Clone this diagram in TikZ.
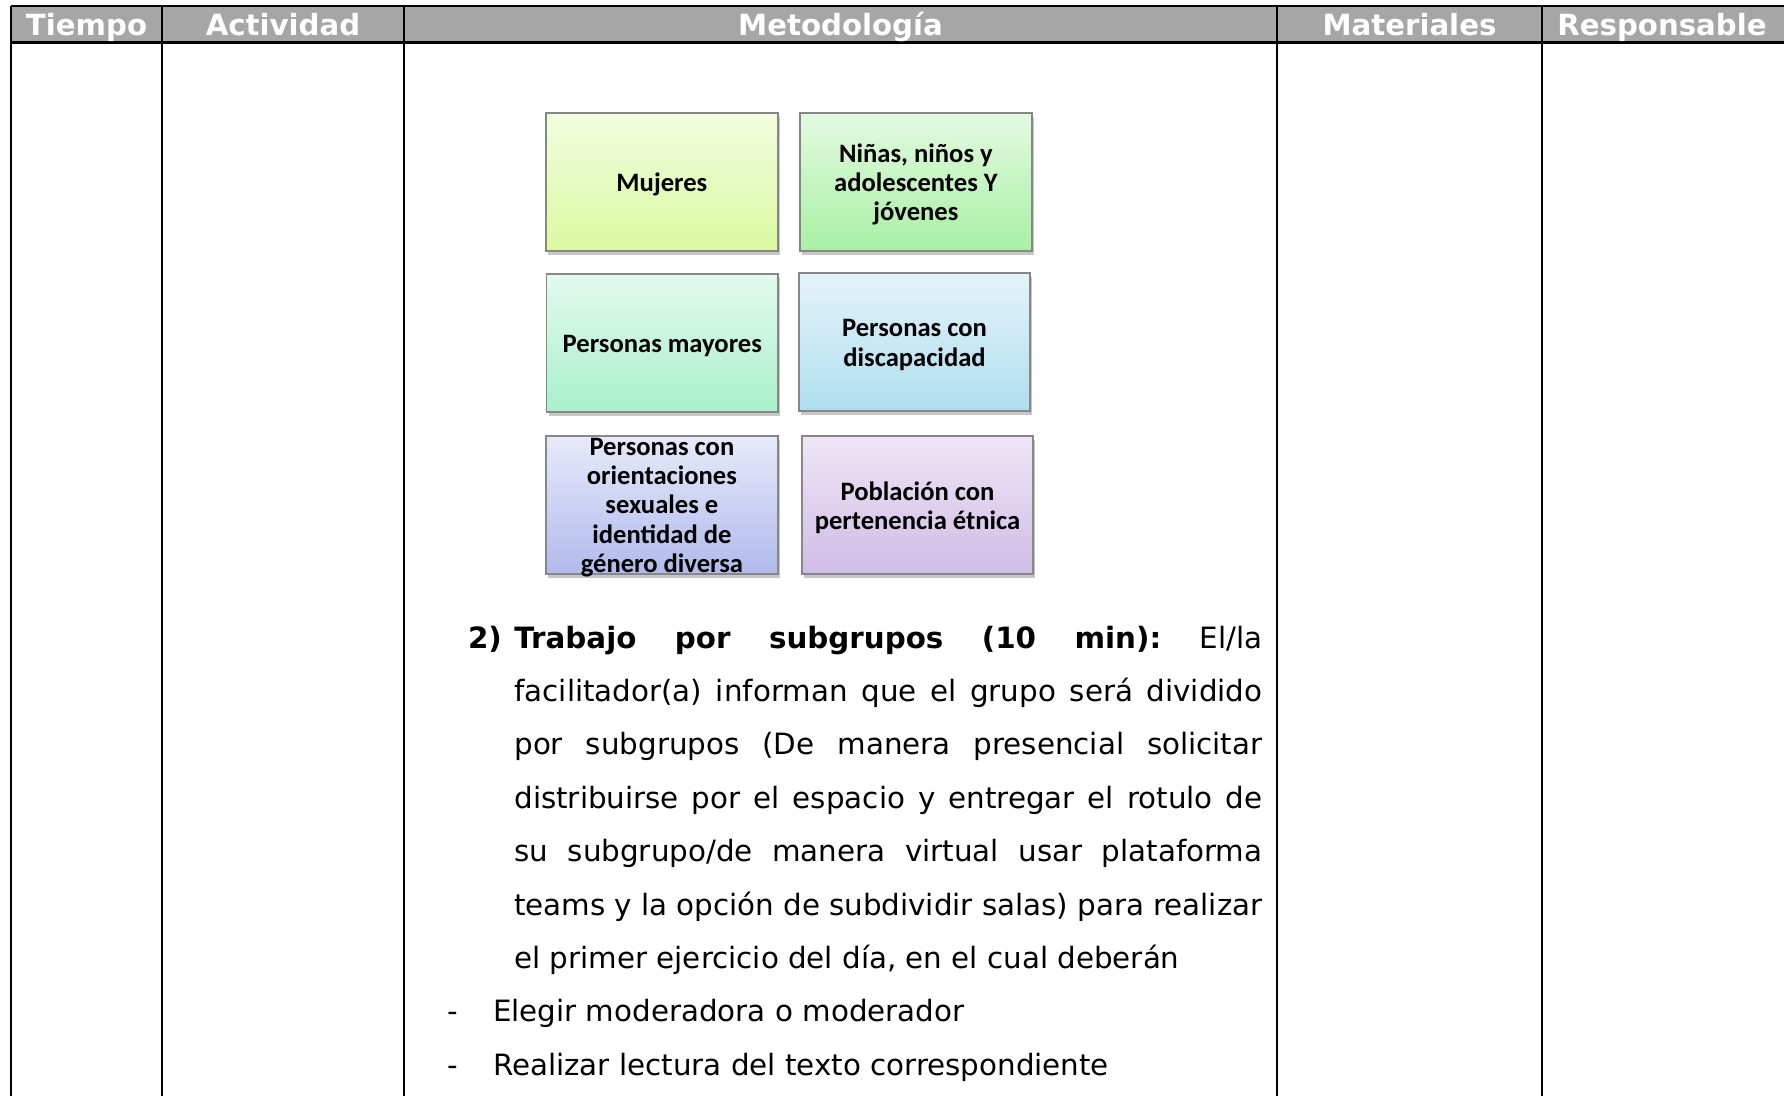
\documentclass[tikz,border=0pt]{standalone}
\usepackage{fontspec}
\setmainfont{DejaVu Sans}
\newfontfamily\boxfont{Carlito}
\usetikzlibrary{shadows}
\definecolor{hdrgray}{RGB}{166,166,166}
\definecolor{boxborder}{RGB}{135,135,135}
\definecolor{c1t}{RGB}{242,253,224}\definecolor{c1b}{RGB}{218,250,160}
\definecolor{c2t}{RGB}{228,250,226}\definecolor{c2b}{RGB}{168,240,163}
\definecolor{c3t}{RGB}{228,250,238}\definecolor{c3b}{RGB}{168,240,204}
\definecolor{c4t}{RGB}{228,243,250}\definecolor{c4b}{RGB}{174,222,238}
\definecolor{c5t}{RGB}{232,234,250}\definecolor{c5b}{RGB}{176,186,236}
\definecolor{c6t}{RGB}{238,230,246}\definecolor{c6b}{RGB}{208,188,230}
\tikzset{
  rule/.style={line width=1.1pt, black},
  hdrtext/.style={anchor=base, inner sep=0pt, text=white, font=\fontsize{14.6}{17}\selectfont\bfseries},
  grp/.style={draw=boxborder, line width=0.9pt, minimum width=115.75pt, minimum height=69pt,
    inner sep=0pt,
    drop shadow={shadow xshift=1pt, shadow yshift=-2pt, opacity=0.22, fill=black}},
  grptext/.style={inner sep=0pt, align=center, text=black, yshift=-1.3pt,
    font=\boxfont\bfseries\fontsize{13.3}{14.65}\selectfont},
  body/.style={anchor=base west, inner sep=0pt, font=\fontsize{14.67}{17}\selectfont}
}
\begin{document}
\begin{tikzpicture}[x=0.5pt,y=-0.5pt]
\useasboundingbox (0,0) rectangle (1784,1096);
\clip (0,0) rectangle (1784,1096);
\fill[white] (0,0) rectangle (1784,1096);
% header
\fill[hdrgray] (11,6) rectangle (1800,42.5);
\draw[rule] (11,6) -- (1800,6);
\draw[rule] (11,42.5) -- (1800,42.5);
\foreach \xx in {11,162,404,1277,1542}{
  \draw[rule] (\xx,6) -- (\xx,1100);
}
\node[hdrtext] (h1) at (86.5,35.5) {Tiempo};
\node[hdrtext] (h2) at (283,35.5) {Actividad};
\node[hdrtext] (h3) at (840.5,35.5) {Metodología};
\node[hdrtext] (h4) at (1409.5,35.5) {Materiales};
\node[hdrtext] (h5) at (1662,35.5) {Responsable};
% boxes
\node[grp, top color=c1t, bottom color=c1b] (b1) at (661.9,182) {};
\node[grp, top color=c2t, bottom color=c2b] (b2) at (915.9,182) {};
\node[grp, top color=c3t, bottom color=c3b] (b3) at (662.3,343.3) {};
\node[grp, top color=c4t, bottom color=c4b] (b4) at (914.5,342.3) {};
\node[grp, top color=c5t, bottom color=c5b] (b5) at (661.9,505) {};
\node[grp, top color=c6t, bottom color=c6b] (b6) at (917.5,505) {};
\node[grptext] (t1) at (b1.center) {Mujeres};
\node[grptext] (t2) at (b2.center) {Niñas, niños y\\adolescentes Y\\jóvenes};
\node[grptext] (t3) at (b3.center) {Personas mayores};
\node[grptext] (t4) at (b4.center) {Personas con\\discapacidad};
\node[grptext] (t5) at (b5.center) {Personas con\\orientaciones\\sexuales e\\identidad de\\género diversa};
\node[grptext] (t6) at (b6.center) {Población con\\pertenencia étnica};
% paragraph
\node[body] (n2) at (467.6,648) {\bfseries 2)};
\node[body] (p1) at (514,648) {\hbox to 374pt{\bfseries Trabajo\hfill por\hfill subgrupos\hfill (10\hfill min):\hfill\mdseries El/la}};
\node[body] (p2) at (514,701.4) {\hbox to 374pt{facilitador(a) informan que el grupo será dividido}};
\node[body] (p3) at (514,754.8) {\hbox to 374pt{por subgrupos (De manera presencial solicitar}};
\node[body] (p4) at (514,808.2) {\hbox to 374pt{distribuirse por el espacio y entregar el rotulo de}};
\node[body] (p5) at (514,861.6) {\hbox to 374pt{su subgrupo/de manera virtual usar plataforma}};
\node[body] (p6) at (514,915) {\hbox to 374pt{teams y la opción de subdividir salas) para realizar}};
\node[body] (p7) at (514,968.4) {el primer ejercicio del día, en el cual deberán};
\node[body] (d1) at (447,1021.8) {-};
\node[body] (i1) at (492.7,1021.8) {Elegir moderadora o moderador};
\node[body] (d2) at (447,1075.2) {-};
\node[body] (i2) at (492.7,1075.2) {Realizar lectura del texto correspondiente};
\end{tikzpicture}
\end{document}
